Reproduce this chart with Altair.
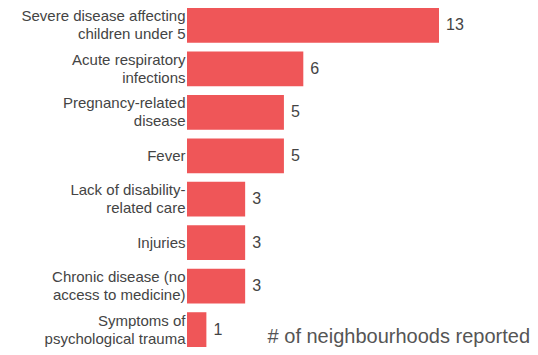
import altair as alt
import pandas as pd

categories = [
    "Severe disease affecting|children under 5",
    "Acute respiratory|infections",
    "Pregnancy-related|disease",
    "Fever",
    "Lack of disability-|related care",
    "Injuries",
    "Chronic disease (no|access to medicine)",
    "Symptoms of|psychological trauma",
]
values = [13, 6, 5, 5, 3, 3, 3, 1]
title_text = "# of neighbourhoods reported"

df = pd.DataFrame({"cat": categories, "val": values})

FONT = "Liberation Sans"
BAR = "#EF5658"
TXT = "#444444"

W, H = 252, 339

base = alt.Chart(df).encode(
    y=alt.Y(
        "cat:N",
        sort=categories,
        scale=alt.Scale(paddingInner=0.2, paddingOuter=0),
        axis=alt.Axis(
            title=None,
            domain=False,
            ticks=False,
            labelPadding=2,
            labelFontSize=15,
            labelFont=FONT,
            labelColor=TXT,
            labelLimit=300,
            labelLineHeight=18,
            labelExpr="split(datum.label, '|')",
            labelOffset={
                "condition": {"test": "indexof(datum.value, '|') >= 0", "value": -9},
                "value": 0,
            },
        ),
    ),
    x=alt.X(
        "val:Q",
        scale=alt.Scale(domain=[0, 13], nice=False),
        axis=None,
    ),
)

bars = base.mark_bar(color=BAR)
labels = base.mark_text(
    align="left", baseline="middle", dx=7, fontSize=16, font=FONT, color=TXT
).encode(text="val:Q")

title = alt.Chart(pd.DataFrame({"t": [title_text]})).mark_text(
    align="right", baseline="alphabetic", fontSize=20, font=FONT, color="#555555"
).encode(x=alt.value(343), y=alt.value(335), text="t:N")

chart = (
    alt.layer(bars, labels, title)
    .properties(
        width=W,
        height=H,
        autosize=alt.AutoSizeParams(type="none"),
        padding={"left": 179, "top": 0, "right": 91, "bottom": 0},
    )
    .configure_view(stroke=None)
)

chart.save("out.html", embed_options={"renderer": "svg", "actions": False})
